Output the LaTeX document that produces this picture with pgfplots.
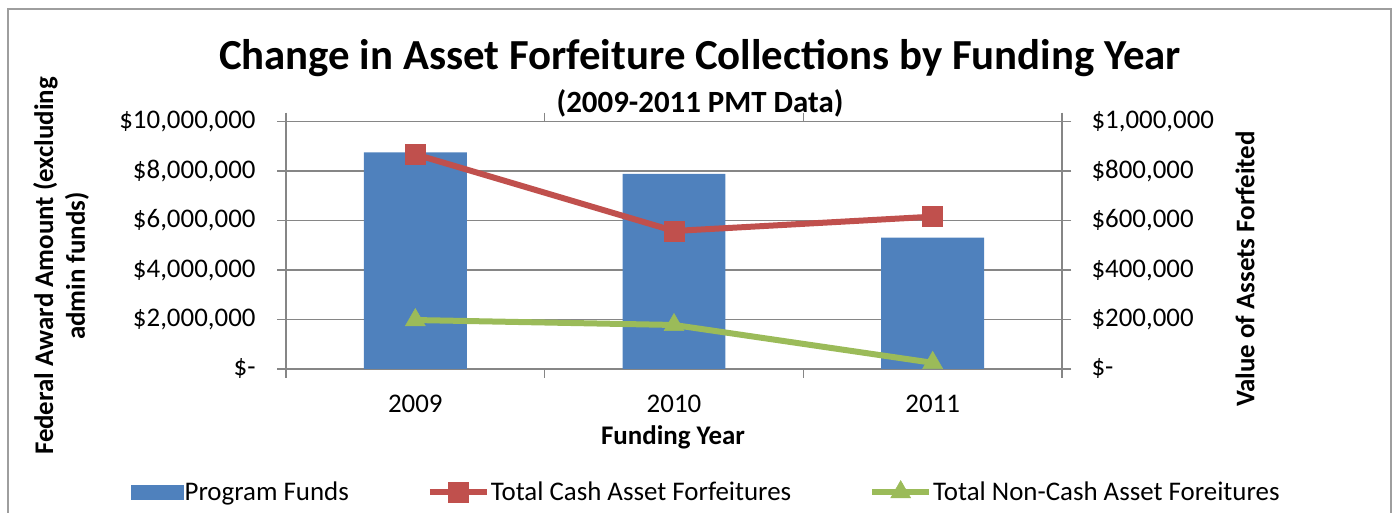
\documentclass[border=0pt]{standalone}
\usepackage{pgfplots}
\pgfplotsset{compat=1.18}
\usepackage{fontspec}
\setmainfont{Carlito}
\definecolor{barblue}{HTML}{4F81BD}
\definecolor{cashred}{HTML}{C0504D}
\definecolor{ncgreen}{HTML}{9BBB59}
\definecolor{gridgray}{HTML}{868686}
\newcommand\fs{\fontsize{27}{32}\selectfont}

\begin{document}
\begin{tikzpicture}[x=1bp,y=1bp]
\path[use as bounding box] (0,0) rectangle (1396,513);
\draw[gridgray!80, line width=1.5bp] (8,-5) -- (8,504) -- (1391,504) -- (1391,-5);

% titles and axis titles
\node[font=\fontsize{43}{50}\selectfont\bfseries] at (700,455) {Change in Asset Forfeiture Collections by Funding Year};
\node[font=\fontsize{31}{36}\selectfont\bfseries] at (700,410) {(2009-2011 PMT Data)};
\node[font=\fs\bfseries] at (673,76) {Funding Year};
\node[font=\fs\bfseries, rotate=90, align=center] at (61,247) {Federal Award Amount (excluding\\admin funds)};
\node[font=\fs\bfseries, rotate=90] at (1245,244) {Value of Assets Forfeited};

% left axis: program funds
\begin{axis}[
    at={(286bp,144bp)}, anchor=south west,
    scale only axis, width=776bp, height=247.3bp,
    xmin=0, xmax=3, ymin=0, ymax=10000000,
    xtick={0.5,1.5,2.5}, xticklabels={2009,2010,2011},
    minor xtick={0,1,2,3},
    ytick={0,2000000,4000000,6000000,8000000,10000000},
    yticklabels={{\$-},{\$2,000,000},{\$4,000,000},{\$6,000,000},{\$8,000,000},{\$10,000,000}},
    scaled y ticks=false,
    ymajorgrids, grid style={gridgray, line width=1.5bp},
    axis line style={gridgray, line width=1.5bp},
    tick align=outside, major tick length=9bp, minor tick length=9bp,
    tick style={gridgray, line width=1.5bp},
    major x tick style={draw=none},
    ticklabel style={font=\fs},
    xticklabel style={yshift=-14bp},
    yticklabel style={xshift=-18bp},
]
\addplot[ybar, bar width=0.398, bar shift=0pt, fill=barblue, draw=none]
  coordinates {(0.5,8760000) (1.5,7885000) (2.5,5310000)};
\end{axis}

% right axis: forfeitures
\begin{axis}[
    at={(286bp,144bp)}, anchor=south west,
    scale only axis, width=776bp, height=247.3bp,
    xmin=0, xmax=3, ymin=0, ymax=1000000,
    axis x line=none, axis y line*=right,
    ytick={0,200000,400000,600000,800000,1000000},
    yticklabels={{\$-},{\$200,000},{\$400,000},{\$600,000},{\$800,000},{\$1,000,000}},
    scaled y ticks=false,
    yticklabel style={anchor=west, xshift=17bp},
    axis line style={gridgray, line width=1.5bp},
    tick align=outside, major tick length=9bp,
    tick style={gridgray, line width=1.5bp},
    ticklabel style={font=\fs},
    legend columns=3,
    legend cell align=left,
    legend style={draw=none, fill=none, font=\fs, anchor=west,
        at={(axis description cs:-0.2036,-0.497)},
        nodes={inner sep=1bp},
        /tikz/every even column/.append style={column sep=77bp}},
]
\addlegendimage{legend image code/.code={\fill[barblue] (0bp,-7bp) rectangle (52bp,7bp);}}
\addlegendentry{Program Funds}
\addplot[cashred, line width=6bp, mark=square*, mark size=10bp,
    mark options={line width=0.5bp},
    legend image code/.code={\draw[mark repeat=2,mark phase=2] plot coordinates {(0bp,0bp) (28.5bp,0bp) (57bp,0bp)};}]
  coordinates {(0.5,868000) (1.5,558000) (2.5,616000)};
\addlegendentry{Total Cash Asset Forfeitures}
\addplot[ncgreen, line width=6bp, mark=triangle*, mark size=11.5bp,
    mark options={line width=0.5bp},
    legend image code/.code={\draw[mark repeat=2,mark phase=2] plot coordinates {(0bp,0bp) (28.5bp,0bp) (57bp,0bp)};}]
  coordinates {(0.5,198000) (1.5,178000) (2.5,25000)};
\addlegendentry{Total Non-Cash Asset Foreitures}
\end{axis}
\end{tikzpicture}
\end{document}
